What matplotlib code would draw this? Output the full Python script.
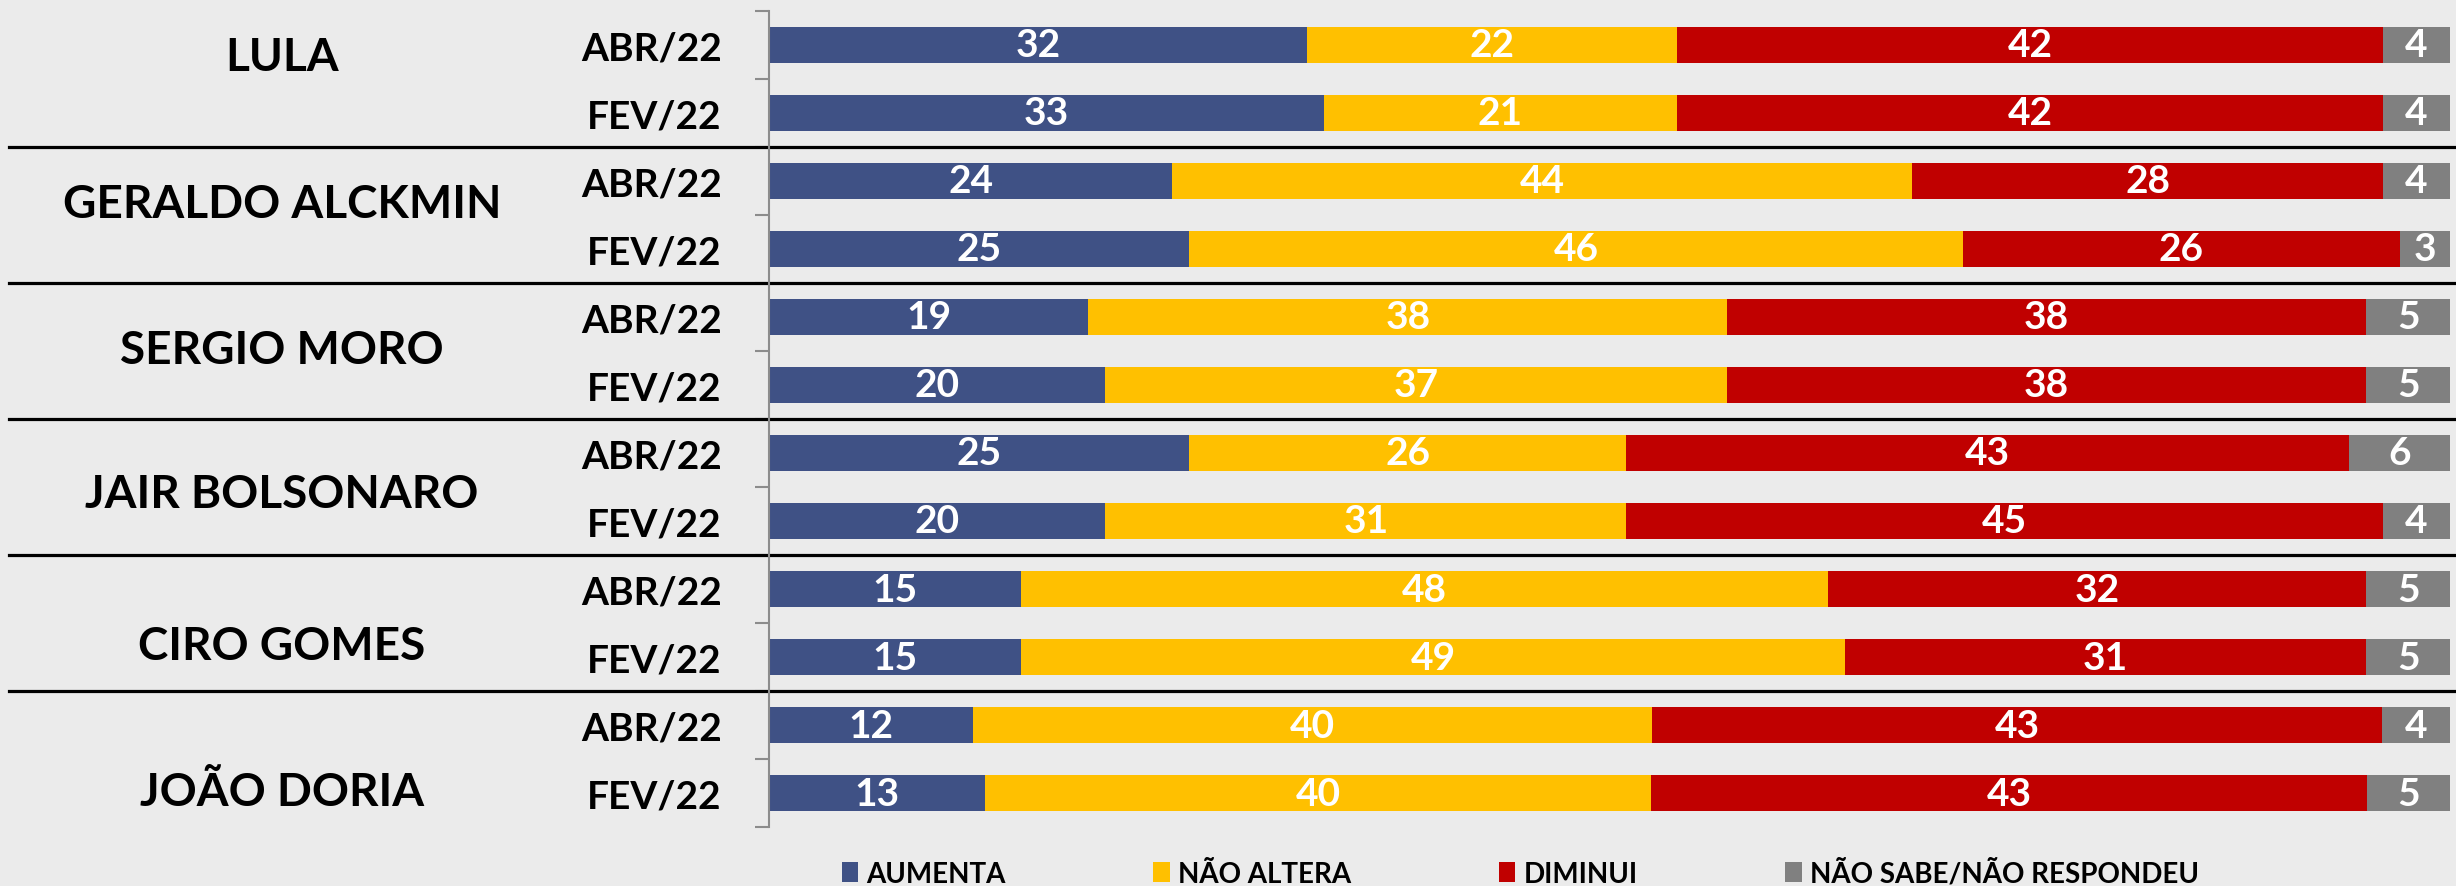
import matplotlib.pyplot as plt
import matplotlib.transforms as mtransforms
import numpy as np
from matplotlib.patches import Patch

plt.rcParams["font.family"] = ["Lato", "DejaVu Sans"]
plt.rcParams["font.weight"] = "bold"

candidates = ["LULA", "GERALDO ALCKMIN", "SERGIO MORO", "JAIR BOLSONARO", "CIRO GOMES", "JOÃO DORIA"]
waves = ["ABR/22", "FEV/22"]
series = ["AUMENTA", "NÃO ALTERA", "DIMINUI", "NÃO SABE/NÃO RESPONDEU"]
colors = ["#3F5185", "#FFC000", "#C00000", "#808080"]

# one value per row: candidate x wave (ABR/22 then FEV/22)
aumenta = [32, 33, 24, 25, 19, 20, 25, 20, 15, 15, 12, 13]
nao_altera = [22, 21, 44, 46, 38, 37, 26, 31, 48, 49, 40, 40]
diminui = [42, 42, 28, 26, 38, 38, 43, 45, 32, 31, 43, 43]
nao_sabe = [4, 4, 4, 3, 5, 5, 6, 4, 5, 5, 4, 5]

# vertical spot of each candidate name, in row units
name_rows = [0.18, 2.34, 4.48, 6.60, 8.84, 10.98]

bg = "#EBEBEB"
fig = plt.figure(figsize=(24.56, 8.87), dpi=100, facecolor=bg)
ax = fig.add_axes([0.3131, 0.0665, 0.6845, 0.92], facecolor=bg)

values = np.array([aumenta, nao_altera, diminui, nao_sabe], dtype=float)
shares = values / values.sum(axis=0) * 100  # 100% stacked, like the source chart
rows = np.arange(values.shape[1])

left = np.zeros(len(rows))
for i, (name, color) in enumerate(zip(series, colors)):
    bars = ax.barh(rows, shares[i], left=left, height=0.52, color=color, label=name)
    ax.bar_label(bars, labels=[f"{v:.0f}" for v in values[i]], label_type="center",
                 color="white", fontsize=28, fontweight="bold")
    left += shares[i]

ax.set_xlim(0, 100)
ax.set_ylim(len(rows) - 0.5, -0.5)
ax.set_xticks([])

# tick marks between categories, labels at the centres
ax.set_yticks(np.arange(-0.5, len(rows) + 0.5, 1.0))
ax.set_yticklabels([])
ax.set_yticks(rows, labels=waves * len(candidates), minor=True)
ax.tick_params(axis="y", which="major", length=10, width=1.5, color="#8C8C8C", direction="out")
ax.tick_params(axis="y", which="minor", length=0, pad=34, labelsize=28)

for side in ["top", "right", "bottom"]:
    ax.spines[side].set_visible(False)
ax.spines["left"].set_color("#8C8C8C")
ax.spines["left"].set_linewidth(1.5)

trans = mtransforms.blended_transform_factory(fig.transFigure, ax.transData)

# black separators between candidates
for k in range(1, len(candidates)):
    yb = 2 * k - 0.5
    ax.plot([9 / 2456, 1], [yb, yb], color="black", linewidth=2.3, transform=trans, clip_on=False)

for name, ry in zip(candidates, name_rows):
    ax.text(282 / 2456, ry, name, transform=trans, ha="center", va="center",
            fontsize=33, fontweight="bold", color="black")

handles = [Patch(facecolor=c, label=s) for s, c in zip(series, colors)]
fig.legend(handles=handles, loc="center", bbox_to_anchor=(0.619, 0.0147), ncol=4,
           frameon=False, prop={"size": 20, "weight": "bold"}, handlelength=0.6,
           handleheight=0.7, handletextpad=0.3, columnspacing=5.3)

fig.savefig("out.png", dpi=100, facecolor=bg)
